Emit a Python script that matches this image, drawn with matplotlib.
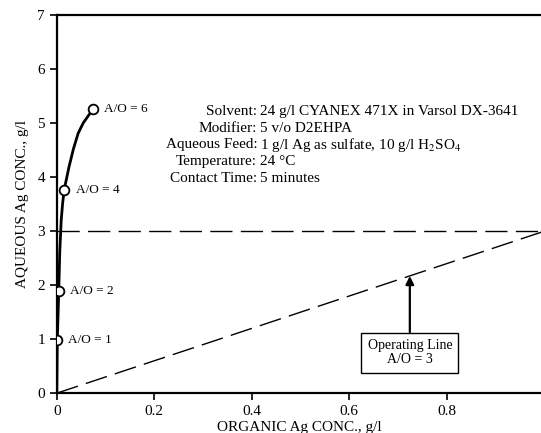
import matplotlib.pyplot as plt

plt.rcParams['font.family'] = ['Liberation Serif', 'DejaVu Serif']
plt.rcParams['mathtext.fontset'] = 'stix'

# equilibrium isotherm (organic vs aqueous Ag, g/l)
iso_x = [0.0, 0.001, 0.004, 0.006, 0.009, 0.012, 0.015, 0.018, 0.025, 0.034, 0.0437, 0.054, 0.064, 0.0745]
iso_y = [0.0, 0.98, 1.89, 2.60, 3.20, 3.52, 3.76, 3.89, 4.19, 4.52, 4.81, 5.00, 5.13, 5.26]

# measured points
pt_x = [0.001, 0.004, 0.015, 0.0745]
pt_y = [0.98, 1.89, 3.76, 5.26]
pt_labels = ['A/O = 1', 'A/O = 2', 'A/O = 4', 'A/O = 6']

# operating line A/O = 3 and feed level
op_x = [0.0, 1.0]
op_y = [0.0, 3.0]
feed_x = [0.0, 1.0]
feed_y = [3.0, 3.0]

info_keys = ['Solvent:', 'Modifier:', 'Aqueous Feed:', 'Temperature:', 'Contact Time:']
info_vals = ['24 g/l CYANEX 471X in Varsol DX-3641', '5 v/o D2EHPA',
             r'1 g/l Ag as sulfate, 10 g/l H$_2$SO$_4$', '24 °C', '5 minutes']

fig = plt.figure(figsize=(5.41, 4.33), dpi=100)
ax = fig.add_axes([0.105, 0.092, 0.895, 0.873])

ax.plot(feed_x, feed_y, color='black', linewidth=1.0, dashes=(16, 6))
ax.plot(op_x, op_y, color='black', linewidth=1.0, dashes=(16, 6))
ax.plot(iso_x, iso_y, color='black', linewidth=2.0, solid_joinstyle='round')
ax.plot(pt_x, pt_y, 'o', markersize=7, markerfacecolor='white',
        markeredgecolor='black', markeredgewidth=1.3, zorder=5)

offsets = [(7.5, 0), (8, 0), (8.5, 0), (7.5, 0)]
for x, y, lab, off in zip(pt_x, pt_y, pt_labels, offsets):
    ax.annotate(lab, (x, y), xytext=off, textcoords='offset points',
                fontsize=9.5, va='center', ha='left')

for i, (k, v) in enumerate(zip(info_keys, info_vals)):
    yy = 5.22 - i * 0.31
    ax.text(0.411, yy, k, fontsize=11, ha='right', va='center')
    ax.text(0.417, yy, v, fontsize=11, ha='left', va='center')

ax.annotate('Operating Line\nA/O = 3', xy=(0.724, 2.17), xytext=(0.724, 0.75),
            fontsize=10, ha='center', va='center', linespacing=1.15,
            bbox=dict(boxstyle='square,pad=0.45', fc='white', ec='black', lw=1.0),
            arrowprops=dict(arrowstyle='-|>', color='black', lw=1.6, mutation_scale=12,
                            shrinkA=0, shrinkB=0))

ax.set_xlim(0, 0.993)
ax.set_ylim(0, 7)
ax.set_xticks([0, 0.2, 0.4, 0.6, 0.8])
ax.set_xticklabels(['0', '0.2', '0.4', '0.6', '0.8'])
ax.set_yticks(range(0, 8))
ax.tick_params(labelsize=11, direction='out', length=5, width=1.2)
ax.set_xlabel('ORGANIC Ag CONC., g/l', fontsize=11, labelpad=2)
ax.set_ylabel('AQUEOUS Ag CONC., g/l', fontsize=11, labelpad=6)

ax.spines['right'].set_visible(False)
for s in ['left', 'bottom', 'top']:
    ax.spines[s].set_linewidth(1.6)

plt.savefig('out.png', dpi=100)
